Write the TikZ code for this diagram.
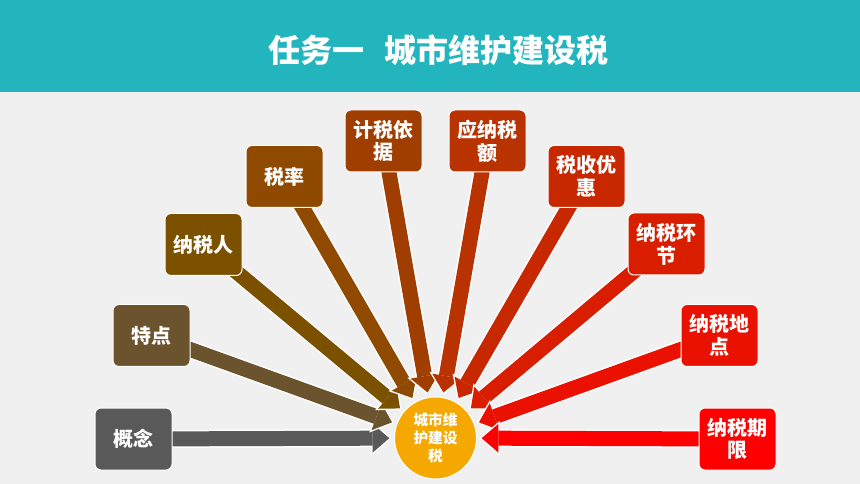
\documentclass[tikz,border=0pt]{standalone}
\usepackage{fontspec}
\setmainfont{Noto Sans CJK SC}
\usetikzlibrary{arrows.meta}
\definecolor{bg}{HTML}{F0F0F0}
\definecolor{head}{HTML}{23B5BE}
\definecolor{cA}{HTML}{595959}
\definecolor{cB}{HTML}{6B532D}
\definecolor{cC}{HTML}{7B5100}
\definecolor{cD}{HTML}{904A00}
\definecolor{cE}{HTML}{A03E00}
\definecolor{cF}{HTML}{B83300}
\definecolor{cG}{HTML}{C72800}
\definecolor{cH}{HTML}{D91E00}
\definecolor{cI}{HTML}{EB1100}
\definecolor{cJ}{HTML}{FF0000}
\definecolor{circ}{HTML}{F5A800}
\pgfdeclarelayer{back}
\pgfdeclarelayer{mid}
\pgfsetlayers{back,mid,main}
\begin{document}
\begin{tikzpicture}[x=0.75pt,y=-0.75pt,
  itembox/.style={draw=white,line width=0.75pt,fill=#1,rounded corners=4.5pt,
    minimum width=57.75pt,minimum height=46.5pt,inner sep=0pt,text=white,
    font=\fontsize{15pt}{17pt}\selectfont\bfseries,align=center},
  bigarrow/.style={draw=#1,line width=11.25pt,
    -{Triangle[width=21.5pt,length=12.5pt,line width=0pt]},shorten >=3.5pt,
    preaction={draw=white,line width=13.5pt,
      -{Triangle[width=26pt,length=15pt,line width=0pt]},shorten >=2pt}},
]
\begin{pgfonlayer}{back}
\fill[bg] (0,0) rectangle (860,484);
\fill[head] (0,0) rectangle (860,92);
\end{pgfonlayer}
\node[text=white,font=\fontsize{24pt}{28pt}\selectfont\bfseries] (title) at (438.5,50) {任务一\hspace{15pt}城市维护建设税};
\node[circle,draw=white,line width=0.75pt,fill=circ,minimum size=61.5pt,inner sep=0pt,
  text=white,align=center,font=\fontsize{11pt}{13.5pt}\selectfont\bfseries] (c) at (435.5,438) {城市维\\护建设\\税};
\node[itembox=cA] (b1) at (133.5,439) {概念};
\node[itembox=cB] (b2) at (151.5,335.5) {特点};
\node[itembox=cC] (b3) at (203.5,244.5) {纳税人};
\node[itembox=cD] (b4) at (284.5,176.5) {税率};
\node[itembox=cE] (b5) at (383.5,141) {计税依\\据};
\node[itembox=cF] (b6) at (487.5,141) {应纳税\\额};
\node[itembox=cG] (b7) at (586.5,176.5) {税收优\\惠};
\node[itembox=cH] (b8) at (666.5,244) {纳税环\\节};
\node[itembox=cI] (b9) at (719.5,335.5) {纳税地\\点};
\node[itembox=cJ] (b10) at (737.5,439) {纳税期\\限};
\begin{pgfonlayer}{mid}
\draw[bigarrow=cA] (b1.center) -- (c);
\draw[bigarrow=cB] (b2.center) -- (c);
\draw[bigarrow=cC] (b3.center) -- (c);
\draw[bigarrow=cD] (b4.center) -- (c);
\draw[bigarrow=cE] (b5.center) -- (c);
\draw[bigarrow=cF] (b6.center) -- (c);
\draw[bigarrow=cG] (b7.center) -- (c);
\draw[bigarrow=cH] (b8.center) -- (c);
\draw[bigarrow=cI] (b9.center) -- (c);
\draw[bigarrow=cJ] (b10.center) -- (c);
\end{pgfonlayer}
\end{tikzpicture}
\end{document}
